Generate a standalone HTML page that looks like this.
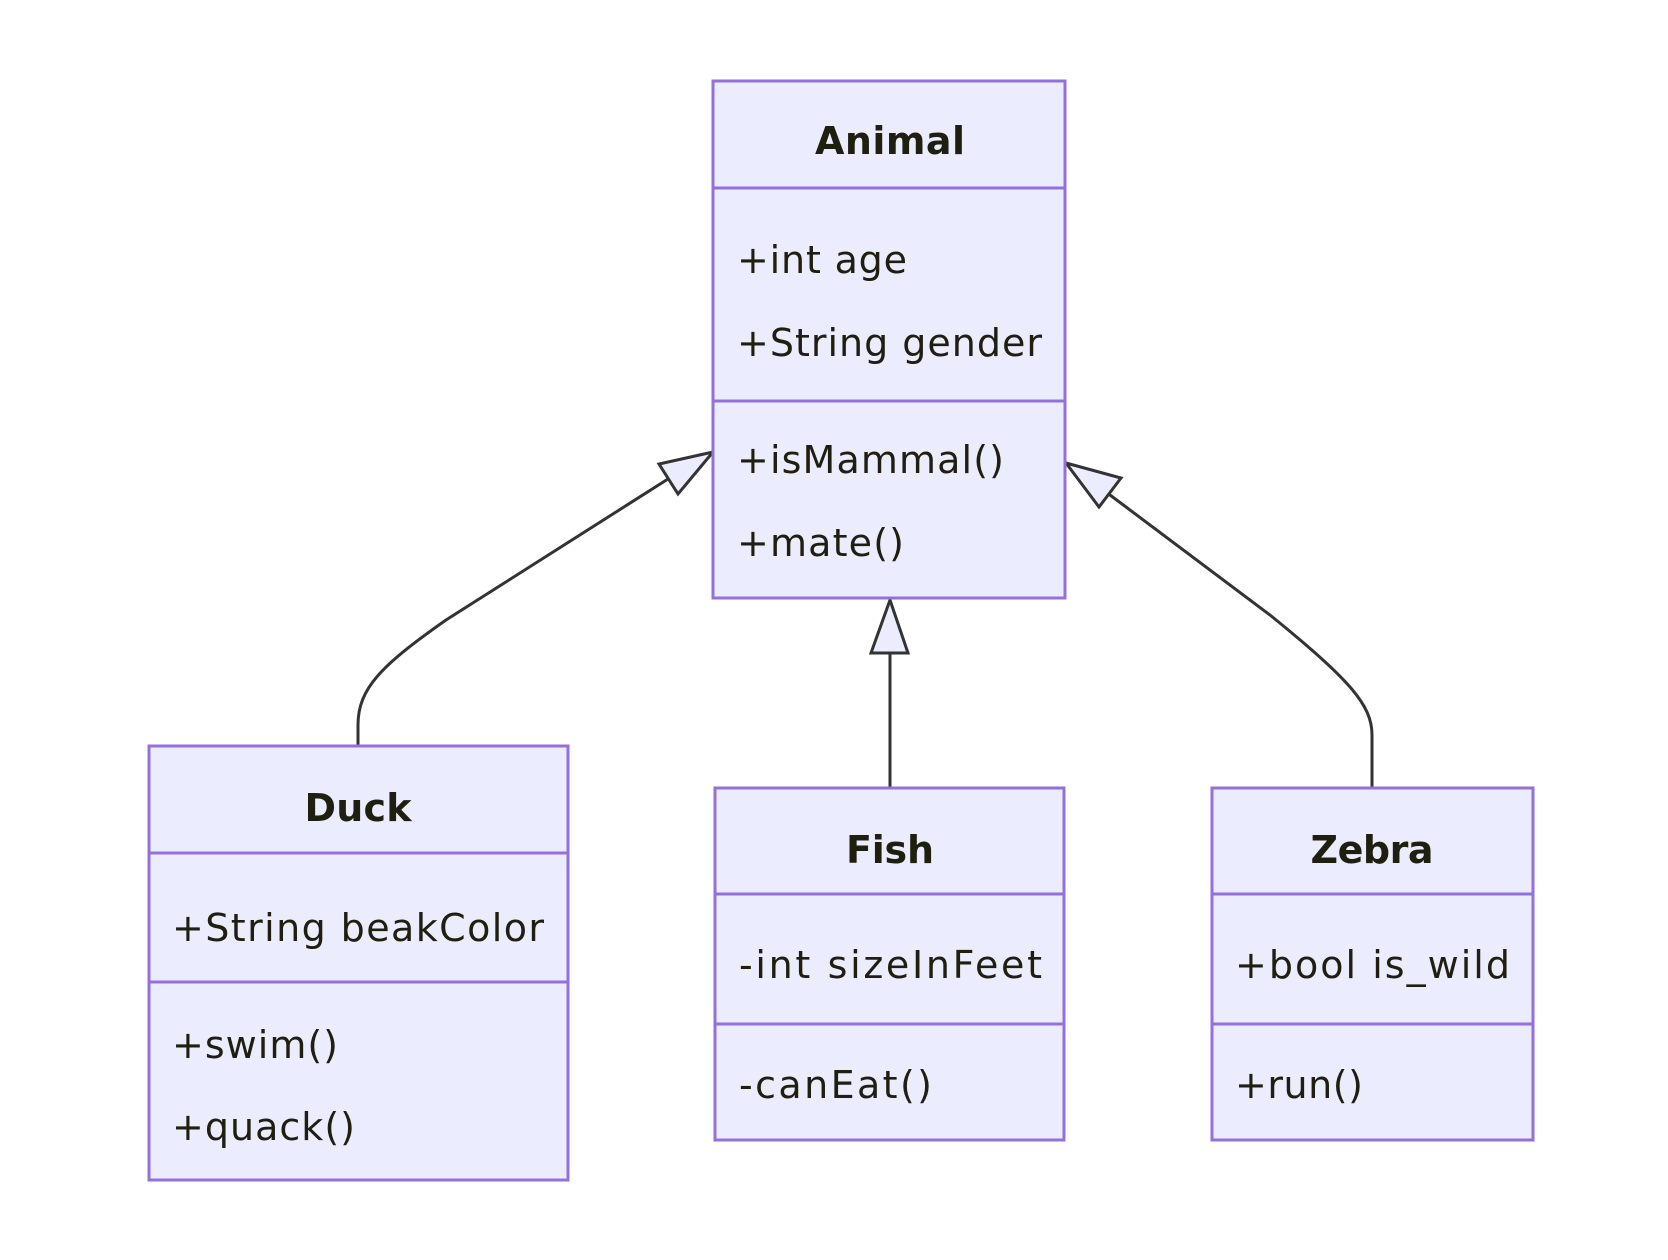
<!DOCTYPE html>
<html><head><meta charset="utf-8"><style>
html,body{margin:0;padding:0;background:#fff;}
svg{display:block;}
text{font-family:"DejaVu Sans","Liberation Sans",sans-serif;fill:#1f1f0f;font-size:38px;}
.t{font-weight:bold;text-anchor:middle;}
.b{fill:#ececff;stroke:#9370db;stroke-width:3;}
.d{stroke:#9370db;stroke-width:3;}
.e{fill:none;stroke:#333;stroke-width:3;}
.a{fill:#ececff;stroke:#333;stroke-width:3;stroke-linejoin:miter;}
</style></head><body>
<svg width="1668" height="1260" viewBox="0 0 1668 1260" xmlns="http://www.w3.org/2000/svg">
<rect width="1668" height="1260" fill="#fff"/>
<!-- edges -->
<path class="e" d="M358,746 L358,725 C358,688 382,665 446,620 L668,479"/>
<polygon class="a" points="713,452 659,464 678,494"/>
<path class="e" d="M890,788 L890,653"/>
<polygon class="a" points="890,600 871,653 908,653"/>
<path class="e" d="M1106,492 L1270,615 C1350,680 1372,705 1372,735 L1372,788"/>
<polygon class="a" points="1066,463 1121,478 1099,507"/>
<!-- Animal -->
<rect class="b" x="713" y="81" width="352" height="517"/>
<line class="d" x1="713" y1="188" x2="1065" y2="188"/>
<line class="d" x1="713" y1="401" x2="1065" y2="401"/>
<text class="t" x="890" y="154" textLength="150">Animal</text>
<text x="737" y="273" textLength="170">+int age</text>
<text x="737" y="356" textLength="305">+String gender</text>
<text x="737" y="473" textLength="267">+isMammal()</text>
<text x="737" y="556" textLength="167">+mate()</text>
<!-- Duck -->
<rect class="b" x="149" y="746" width="419" height="434"/>
<line class="d" x1="149" y1="853" x2="568" y2="853"/>
<line class="d" x1="149" y1="982" x2="568" y2="982"/>
<text class="t" x="358" y="821" textLength="107">Duck</text>
<text x="172" y="941" textLength="372">+String beakColor</text>
<text x="172" y="1058" textLength="166">+swim()</text>
<text x="172" y="1140" textLength="183">+quack()</text>
<!-- Fish -->
<rect class="b" x="715" y="788" width="349" height="352"/>
<line class="d" x1="715" y1="894" x2="1064" y2="894"/>
<line class="d" x1="715" y1="1024" x2="1064" y2="1024"/>
<text class="t" x="890" y="863" textLength="88">Fish</text>
<text x="739" y="978" textLength="303">-int sizeInFeet</text>
<text x="739" y="1098" textLength="193">-canEat()</text>
<!-- Zebra -->
<rect class="b" x="1212" y="788" width="321" height="352"/>
<line class="d" x1="1212" y1="894" x2="1533" y2="894"/>
<line class="d" x1="1212" y1="1024" x2="1533" y2="1024"/>
<text class="t" x="1372" y="863" textLength="123">Zebra</text>
<text x="1235" y="978" textLength="275">+bool is_wild</text>
<text x="1235" y="1098" textLength="128">+run()</text>
</svg>
</body></html>
